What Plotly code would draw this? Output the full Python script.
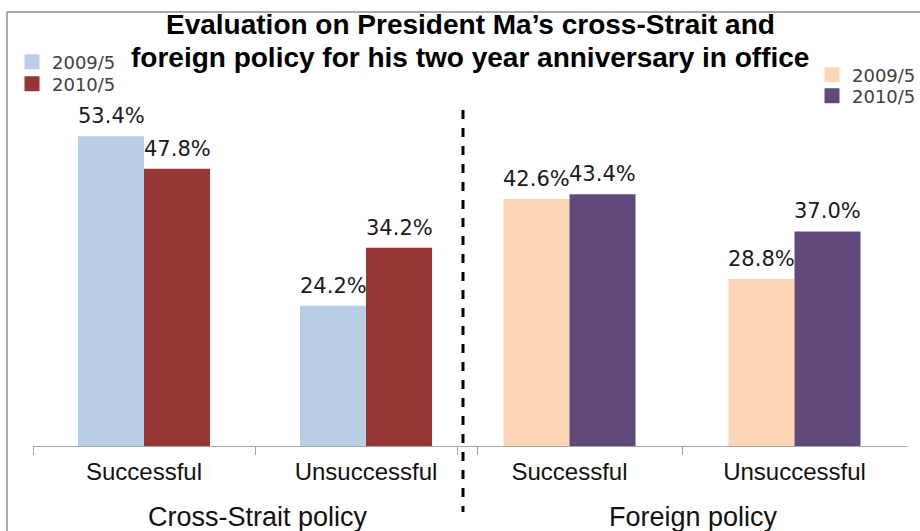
import plotly.graph_objects as go

# ---- data ----
categories = ["Successful", "Unsuccessful"]
cross_2009 = [53.4, 24.2]
cross_2010 = [47.8, 34.2]
foreign_2009 = [42.6, 28.8]
foreign_2010 = [43.4, 37.0]
series_names = ["2009/5", "2010/5"]
group_labels = ["Cross-Strait policy", "Foreign policy"]
title_lines = ["Evaluation on President Ma\u2019s cross-Strait and",
               "foreign policy for his two year anniversary in office"]
colors_cross = ["#B9CDE5", "#953735"]
colors_foreign = ["#FCD5B5", "#604A7B"]

# ---- geometry helpers (screen px -> figure coords) ----
FIG_W, FIG_H = 920, 531
PLOT_LEFT, PLOT_RIGHT, PLOT_TOP, PLOT_BOTTOM = 18, 915, 98, 446  # screen px
L = PLOT_LEFT
R = FIG_W - PLOT_RIGHT
T = PLOT_TOP
B = FIG_H - PLOT_BOTTOM
W = FIG_W - L - R
H = FIG_H - T - B


def px2x(p):
    return (p - PLOT_LEFT) / W


def py2y(p):
    return (PLOT_BOTTOM - p) / H


fig = go.Figure()

lab_font = dict(family="DejaVu Sans", size=21, color="#1a1a1a")
BAR_PX = 66


def add_bar(x, y, color, xaxis, yaxis, width, offset, shift):
    fig.add_trace(go.Bar(
        x=x, y=y, marker=dict(color=color, line=dict(width=0)),
        xaxis=xaxis, yaxis=yaxis, width=width, offset=offset, showlegend=False,
        hoverinfo="skip"))
    for cat, v in zip(x, y):
        fig.add_annotation(x=cat, y=v, xref=xaxis, yref=yaxis, text=f"{v:.1f}%",
                           showarrow=False, xanchor="center", yanchor="bottom",
                           xshift=shift, yshift=6, font=lab_font)


def add_legend_entry(name, color, legend, xaxis, yaxis):
    fig.add_trace(go.Scatter(
        x=[None], y=[None], mode="markers", name=name, legend=legend,
        xaxis=xaxis, yaxis=yaxis,
        marker=dict(symbol="square", size=15, color=color, line=dict(width=0)),
        hoverinfo="skip"))


wl = BAR_PX / 222
wr = BAR_PX / 225
add_bar(categories, cross_2009, colors_cross[0], "x", "y", wl, -wl, -BAR_PX / 2)
add_bar(categories, cross_2010, colors_cross[1], "x", "y", wl, 0, BAR_PX / 2)
add_bar(categories, foreign_2009, colors_foreign[0], "x2", "y2", wr, -wr, -BAR_PX / 2)
add_bar(categories, foreign_2010, colors_foreign[1], "x2", "y2", wr, 0, BAR_PX / 2)

add_legend_entry(series_names[0], colors_cross[0], "legend", "x", "y")
add_legend_entry(series_names[1], colors_cross[1], "legend2", "x", "y")
add_legend_entry(series_names[0], colors_foreign[0], "legend3", "x2", "y2")
add_legend_entry(series_names[1], colors_foreign[1], "legend4", "x2", "y2")

xstyle = dict(type="category", showline=True, linecolor="#A6A6A6", linewidth=1.2,
              ticks="outside", tickson="boundaries", ticklen=8, tickcolor="#A6A6A6",
              tickwidth=1.2, showgrid=False, zeroline=False, ticklabelstandoff=4,
              tickfont=dict(family="Liberation Sans", size=24, color="#111111"))
ystyle = dict(range=[0, 60], visible=False, showgrid=False)

legend_font = dict(family="DejaVu Sans", size=18, color="#404040")


def leg(xp, yp):
    return dict(x=px2x(xp), y=py2y(yp), xanchor="left", yanchor="middle",
                bgcolor="rgba(0,0,0,0)", itemwidth=30, font=legend_font)


fig.update_layout(
    width=FIG_W, height=FIG_H,
    margin=dict(l=L, r=R, t=T, b=B, autoexpand=False),
    paper_bgcolor="white", plot_bgcolor="white",
    barmode="overlay",
    xaxis=dict(domain=[px2x(33), px2x(477)], anchor="y", **xstyle),
    xaxis2=dict(domain=[px2x(457), px2x(907)], anchor="y2", **xstyle),
    yaxis=dict(anchor="x", **ystyle),
    yaxis2=dict(anchor="x2", **ystyle),
    legend=leg(12, 62),
    legend2=leg(12, 84),
    legend3=leg(812, 75),
    legend4=leg(812, 96),
    showlegend=True,
)

# title lines
for line, cy in zip(title_lines, [25, 57]):
    fig.add_annotation(text=f"<b>{line}</b>", xref="paper", yref="paper",
                       x=px2x(470), y=py2y(cy), xanchor="center", yanchor="middle",
                       showarrow=False,
                       font=dict(family="Liberation Sans", size=28, color="#000000"))

# group labels
for lab, cx in zip(group_labels, [258, 693]):
    fig.add_annotation(text=lab, xref="paper", yref="paper",
                       x=px2x(cx), y=py2y(517), xanchor="center", yanchor="middle",
                       showarrow=False,
                       font=dict(family="Liberation Sans", size=27, color="#111111"))

# dashed divider
fig.add_shape(type="line", xref="paper", yref="paper",
              x0=px2x(463), x1=px2x(463), y0=py2y(110), y1=py2y(512),
              line=dict(color="#000000", width=3, dash="dash"))

# outer frame (top and left edges)
fig.add_shape(type="line", xref="paper", yref="paper",
              x0=px2x(7), x1=px2x(925), y0=py2y(12), y1=py2y(12),
              line=dict(color="#8C8C8C", width=1.5))
fig.add_shape(type="line", xref="paper", yref="paper",
              x0=px2x(7), x1=px2x(7), y0=py2y(12), y1=py2y(540),
              line=dict(color="#8C8C8C", width=1.5))

fig.write_html("out.html", config={"displayModeBar": False},
               post_script="document.body.style.margin='0';document.body.style.overflow='hidden';")
